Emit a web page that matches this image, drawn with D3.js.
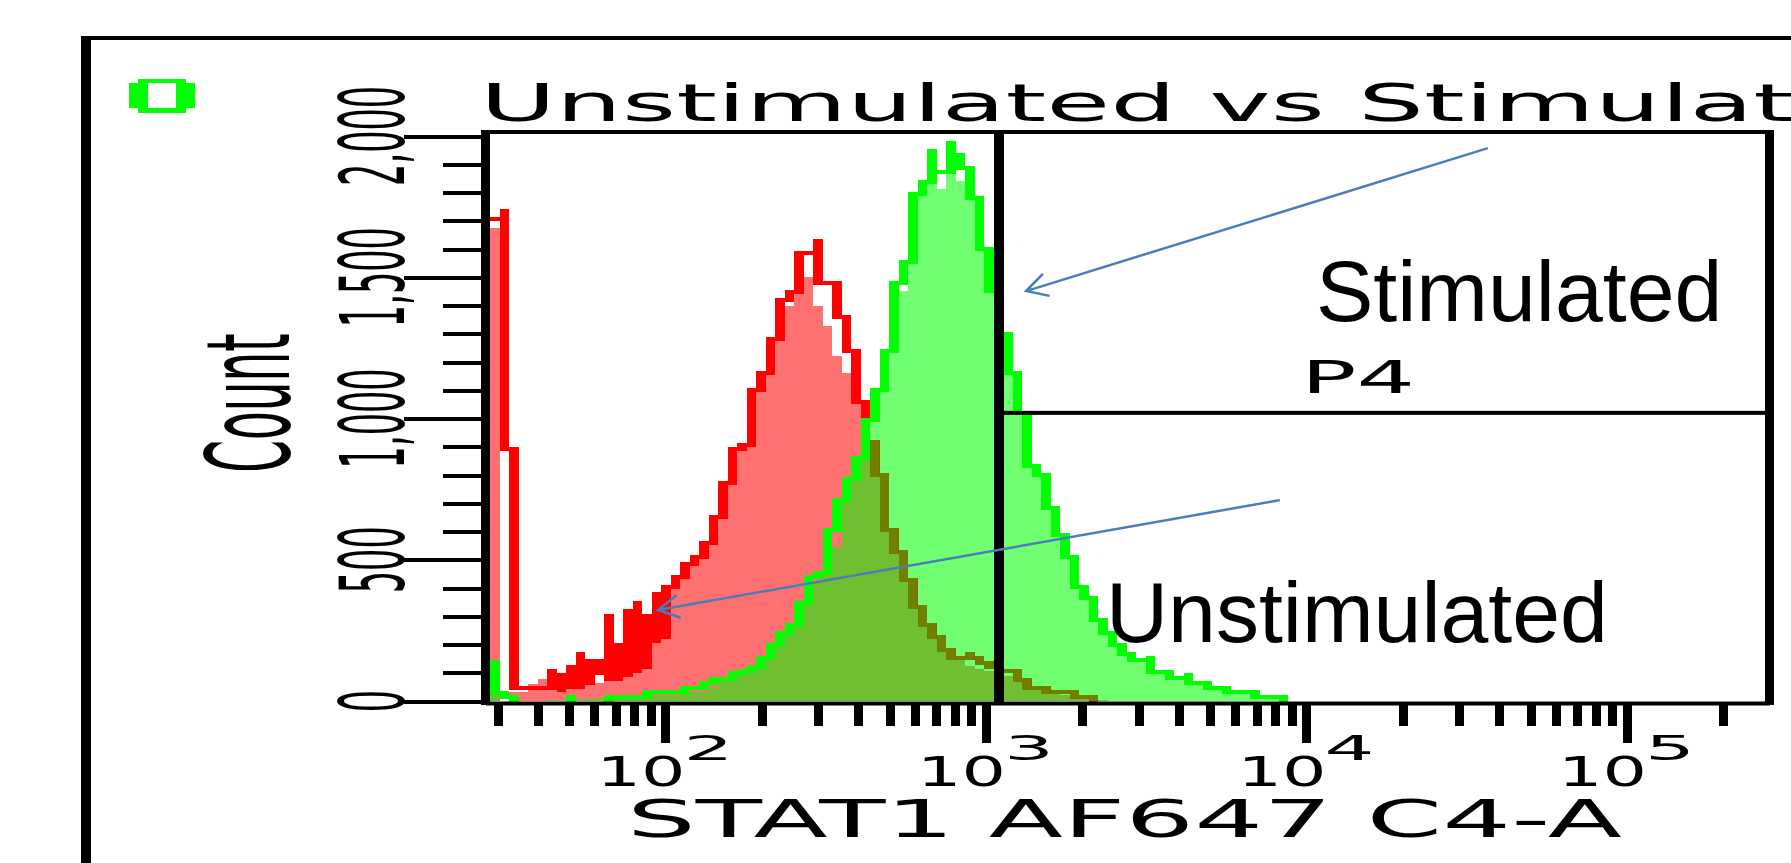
<!DOCTYPE html>
<html>
<head>
<meta charset="utf-8">
<script src="https://cdn.jsdelivr.net/npm/d3@7"></script>
<style>
  body { margin: 0; background: #fff; }
  svg { display: block; }
  .px { font-family: "DejaVu Sans", sans-serif; fill: #000; }
  .note { font-family: "Liberation Sans", Arial, sans-serif; fill: #000; }
  .bar { shape-rendering: crispEdges; }
</style>
</head>
<body>
<script>
//histogram bins: first bin starts at binStart, each bin is binStep decades wide
var binStart = 28.35,
    binStep = 0.02964;

//unstimulated population (red): filled histogram and outline histogram
var redFill = [1675, 0, 32, 32, 60, 78, 46, 32, 46, 46, 64, 64, 78, 78, 92, 106, 120, 212, 227, 420,
    470, 500, 545, 640, 740, 850, 900, 1050, 1130, 1250, 1330, 1400, 1480, 1500, 1400, 1327, 1221, 1161, 1100, 960,
    820, 700, 590, 500, 420, 330, 265, 215, 175, 145, 125, 115, 105, 95, 88, 75, 60, 45, 35, 28,
    20, 14, 10, 6, 3, 0, 0, 0, 0, 0, 0, 0, 0, 0, 0, 0, 0, 0, 0, 0, 0, 0, 0, 0, 0];
var redLine = [1706, 1735, 892, 46, 46, 46, 106, 92, 120, 166, 142, 142, 301, 198, 319, 347, 301, 379, 404, 439,
    485, 510, 559, 652, 773, 892, 906, 1101, 1161, 1283, 1419, 1447, 1586, 1586, 1628, 1481, 1481, 1360, 1240, 1059,
    918, 800, 605, 528, 428, 334, 269, 228, 180, 151, 166, 152, 136, 120, 106, 106, 74, 46, 46, 32,
    32, 32, 14, 14, 0, 0, 0, 0, 0, 0, 0, 0, 0, 0, 0, 0, 0, 0, 0, 0, 0, 0, 0, 0, 0];
//lowest raw count inside each outline column of the noisy left tail
var redLineLow = [1706, 1735, 892, 46, 46, 46, 50, 40, 50, 50, 64, 100, 78, 78, 92, 106, 120, 212, 227];

//stimulated population (green)
var greenFill = [120, 0, 0, 0, 0, 0, 5, 5, 8, 8, 8, 10, 10, 10, 14, 14, 18, 20, 20, 22,
    28, 32, 32, 46, 74, 81, 99, 106, 120, 152, 191, 241, 269, 350, 421, 488, 545, 711, 782, 918,
    1050, 1180, 1313, 1450, 1764, 1795, 1874, 1811, 1903, 1841, 1780, 1628, 1536, 1400, 1250, 1120, 980, 820, 760, 660,
    570, 490, 395, 350, 280, 235, 190, 160, 140, 140, 100, 95, 78, 85, 60, 58, 44, 42, 30, 30,
    28, 12, 12, 10, 0];
var greenLine = [138, 30, 14, 0, 0, 0, 0, 0, 14, 0, 0, 0, 14, 14, 14, 14, 32, 32, 32, 32,
    46, 46, 64, 78, 78, 99, 106, 120, 152, 198, 241, 269, 347, 439, 453, 605, 711, 786, 860, 995,
    1101, 1240, 1481, 1555, 1795, 1838, 1947, 1874, 1974, 1933, 1887, 1780, 1600, 1450, 1299, 1161, 1020, 832, 800, 683,
    588, 510, 404, 365, 287, 241, 198, 166, 145, 152, 103, 103, 81, 92, 64, 64, 46, 46, 33, 33,
    33, 14, 14, 14, 0];

//axis ticks and labels
var xMajor = [100, 1000, 10000, 100000];
var xExp = ["2", "3", "4", "5"];
var xMinor = [30, 40, 50, 60, 70, 80, 90, 200, 300, 400, 500, 600, 700, 800, 900,
    2000, 3000, 4000, 5000, 6000, 7000, 8000, 9000,
    20000, 30000, 40000, 50000, 60000, 70000, 80000, 90000, 200000];
var yMajor = [0, 500, 1000, 1500, 2000];
var yLabels = ["0", "500", "1,000", "1,500", "2,000"];
var yMinor = d3.range(0, 2001, 100).filter(function(v){ return v % 500 != 0; });

//P4 gate corner and annotation arrows, in data units
var gate = {x: 1098, y: 1020};
var arrows = [
    {from: [36800, 1957], to: [1334, 1451]},
    {from: [8260, 711], to: [94.8, 322]}
];

var width = 1791,
    height = 863;

var svg = d3.select("body")
    .append("svg")
    .attr("width", width)
    .attr("height", height);

var x = d3.scaleLog()
    .domain([27.44, 278400])
    .range([485.5, 1769.5]);

var y = d3.scaleLinear()
    .domain([0, 2000])
    .range([701, 136]);

function edge(k){ return binStart * Math.pow(10, k * binStep); }
function bx(k){ return x(edge(k)); }
function bw(k){ return x(edge(k + 1)) - x(edge(k)); }

//outer frame
svg.append("rect").attr("x", 81).attr("y", 36).attr("width", 10).attr("height", height - 36);
svg.append("rect").attr("x", 81).attr("y", 36).attr("width", width - 81).attr("height", 4);

//green population marker
svg.append("path")
    .attr("d", "M138,79H186V83H195V108H186V113H138V108H129V83H138Z M148,83V108H176V83Z")
    .attr("fill", "#00ff00")
    .attr("fill-rule", "evenodd");

//title
svg.append("text")
    .attr("class", "px")
    .attr("x", 480)
    .attr("y", 121)
    .attr("textLength", 1444)
    .attr("lengthAdjust", "spacingAndGlyphs")
    .style("font-size", "51px")
    .text("Unstimulated vs Stimulated");

//filled histograms
var hist = svg.append("g");

function fillBars(vals, color){
    hist.selectAll(null)
        .data(vals.map(function(c, k){ return {k: k, c: c}; }).filter(function(d){ return d.c > 0; }))
        .enter()
        .append("rect")
        .attr("class", "bar")
        .attr("x", function(d){ return bx(d.k); })
        .attr("width", function(d){ return bw(d.k); })
        .attr("y", function(d){ return y(d.c); })
        .attr("height", function(d){ return y(0) - y(d.c); })
        .attr("fill", color);
}

fillBars(redFill, "#ff7070");
fillBars(greenFill, "#70ff70");
fillBars(redFill.map(function(c, k){ return Math.min(c, greenFill[k]); }), "#70bf30");

//clip area of the green fill, for the red outline running over it
svg.append("defs").append("clipPath")
    .attr("id", "greenClip")
    .selectAll("rect")
    .data(greenFill.map(function(c, k){ return {k: k, c: c}; }).filter(function(d){ return d.c > 0; }))
    .enter()
    .append("rect")
    .attr("x", function(d){ return bx(d.k); })
    .attr("width", function(d){ return bw(d.k); })
    .attr("y", function(d){ return y(d.c); })
    .attr("height", function(d){ return y(0) - y(d.c); });

//step outline: each bin column runs from its count down to the lowest neighbour
function outlineCols(vals, lows){
    return vals.map(function(c, k){
        var prev = k > 0 ? vals[k - 1] : c,
            next = k < vals.length - 1 ? vals[k + 1] : 0,
            own = (lows && lows[k] != null) ? lows[k] : c;
        return {k: k, c: c, low: Math.min(c, prev, next, own)};
    }).filter(function(d){ return d.c > 0; });
}

function outline(vals, lows, color, clip){
    var g = hist.append("g");
    if (clip) g.attr("clip-path", "url(#" + clip + ")");
    g.selectAll("rect")
        .data(outlineCols(vals, lows))
        .enter()
        .append("rect")
        .attr("class", "bar")
        .attr("x", function(d){ return bx(d.k); })
        .attr("width", function(d){ return bw(d.k); })
        .attr("y", function(d){ return y(d.c) - 2; })
        .attr("height", function(d){ return y(d.low) - y(d.c) + 4; })
        .attr("fill", color);
}

outline(redLine, redLineLow, "#ff0000");
outline(redLine, redLineLow, "#708000", "greenClip");
outline(greenLine, null, "#00ff00");

//P4 gate
svg.append("rect").attr("x", x(gate.x) - 5).attr("y", 130).attr("width", 10).attr("height", 575);
svg.append("rect").attr("x", x(gate.x)).attr("y", y(gate.y) - 2).attr("width", 1774 - x(gate.x)).attr("height", 4);

//plot box
svg.append("rect").attr("x", 481).attr("y", 130).attr("width", 1293).attr("height", 4);
svg.append("rect").attr("x", 481).attr("y", 130).attr("width", 9).attr("height", 575);
svg.append("rect").attr("x", 1765).attr("y", 130).attr("width", 9).attr("height", 575);

//x axis
var xAxisMinor = svg.append("g")
    .attr("transform", "translate(0,703)")
    .call(d3.axisBottom(x).tickValues(xMinor).tickSize(23).tickSizeOuter(0).tickFormat(""));
var xAxisMajor = svg.append("g")
    .attr("transform", "translate(0,703)")
    .call(d3.axisBottom(x).tickValues(xMajor).tickSize(40).tickSizeOuter(0).tickFormat(""));
svg.selectAll(".domain").attr("stroke", "#000").attr("stroke-width", 4);
xAxisMinor.selectAll(".tick line").attr("stroke-width", 9).attr("shape-rendering", "crispEdges");
xAxisMajor.selectAll(".tick line").attr("stroke-width", 9).attr("shape-rendering", "crispEdges");
xAxisMajor.select(".domain").remove();

//y axis
var yAxisMinor = svg.append("g")
    .attr("transform", "translate(481,0)")
    .call(d3.axisLeft(y).tickValues(yMinor).tickSize(38).tickSizeOuter(0).tickFormat(""));
var yAxisMajor = svg.append("g")
    .attr("transform", "translate(481,0)")
    .call(d3.axisLeft(y).tickValues(yMajor).tickSize(77).tickSizeOuter(0).tickFormat(""));
yAxisMinor.select(".domain").remove();
yAxisMajor.select(".domain").remove();
svg.selectAll(".tick line").filter(function(){ return this.getAttribute("x2"); })
    .attr("stroke-width", 4).attr("shape-rendering", "crispEdges");

//y tick labels, rotated and stretched like the bitmap font
svg.selectAll(".ylab")
    .data(yMajor)
    .enter()
    .append("text")
    .attr("class", "px ylab")
    .attr("transform", function(d){ return "translate(404," + y(d) + ") scale(2.55,1) rotate(-90)"; })
    .attr("text-anchor", "middle")
    .style("font-size", "35px")
    .text(function(d, i){ return yLabels[i]; });

//y axis title
svg.append("text")
    .attr("class", "px")
    .attr("transform", "translate(289,403) scale(2.45,1) rotate(-90)")
    .attr("text-anchor", "middle")
    .style("font-size", "47px")
    .text("Count");

//x tick labels: 10 with exponent
svg.selectAll(".ten")
    .data(xMajor)
    .enter()
    .append("text")
    .attr("class", "px ten")
    .attr("x", function(d){ return x(d) - 69; })
    .attr("y", 786)
    .attr("textLength", 89)
    .attr("lengthAdjust", "spacingAndGlyphs")
    .style("font-size", "41px")
    .text("10");
svg.selectAll(".exp")
    .data(xMajor)
    .enter()
    .append("text")
    .attr("class", "px exp")
    .attr("x", function(d){ return x(d) + 18; })
    .attr("y", 760)
    .attr("textLength", 50)
    .attr("lengthAdjust", "spacingAndGlyphs")
    .style("font-size", "34px")
    .text(function(d, i){ return xExp[i]; });

//x axis title
svg.append("text")
    .attr("class", "px")
    .attr("x", 627)
    .attr("y", 837)
    .attr("textLength", 995)
    .attr("lengthAdjust", "spacingAndGlyphs")
    .style("font-size", "52px")
    .text("STAT1 AF647 C4-A");

//gate name
svg.append("text")
    .attr("class", "px")
    .attr("x", 1301)
    .attr("y", 393)
    .attr("textLength", 114)
    .attr("lengthAdjust", "spacingAndGlyphs")
    .style("font-size", "45px")
    .text("P4");

//annotations
svg.append("text").attr("class", "note").attr("x", 1316).attr("y", 321).style("font-size", "86px").text("Stimulated");
svg.append("text").attr("class", "note").attr("x", 1106).attr("y", 642).style("font-size", "86px").text("Unstimulated");

arrows.forEach(function(a){
    var x0 = x(a.from[0]), y0 = y(a.from[1]),
        x1 = x(a.to[0]), y1 = y(a.to[1]);
    var ang = Math.atan2(y0 - y1, x0 - x1),
        len = 24, spread = 0.5;
    var path = "M" + x0 + "," + y0 + "L" + x1 + "," + y1 +
        "M" + (x1 + len * Math.cos(ang - spread)) + "," + (y1 + len * Math.sin(ang - spread)) +
        "L" + x1 + "," + y1 +
        "L" + (x1 + len * Math.cos(ang + spread)) + "," + (y1 + len * Math.sin(ang + spread));
    svg.append("path")
        .attr("d", path)
        .attr("fill", "none")
        .attr("stroke", "#4a7ebb")
        .attr("stroke-width", 2.5);
});
</script>
</body>
</html>
